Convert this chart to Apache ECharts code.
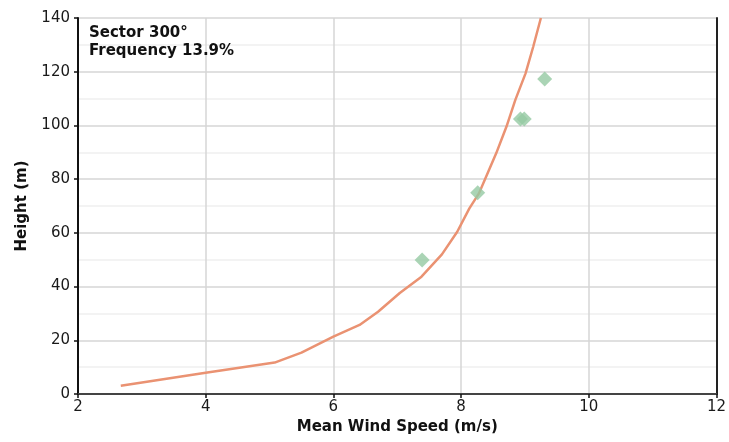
<!DOCTYPE html>
<html>
<head>
<meta charset="utf-8">
<script src="https://cdn.jsdelivr.net/npm/echarts@6/dist/echarts.min.js"></script>
<style>
  html, body { margin: 0; padding: 0; background: #fff; }
  #chart { width: 729px; height: 442px; }
</style>
</head>
<body>
<div id="chart"></div>
<script>
// wind profile curve: [mean wind speed m/s, height m]
const profileLine = [
  [2.67, 3.1], [4.0, 7.9], [5.08, 11.7], [5.5, 15.4], [6.0, 21.4], [6.41, 25.7],
  [6.7, 30.6], [7.04, 37.6], [7.38, 43.7], [7.7, 52.0], [7.94, 60.4], [8.13, 69.1],
  [8.28, 74.7], [8.37, 79.7], [8.55, 89.6], [8.71, 99.5], [8.85, 109.5],
  [9.01, 119.4], [9.13, 129.3], [9.25, 140]
]
// measured points
const measured = [
  [7.39, 49.9], [8.26, 74.9], [8.93, 102.4], [8.99, 102.4], [9.31, 117.3]
]
const xTicks = [2, 4, 6, 8, 10, 12]
const yTicks = [0, 20, 40, 60, 80, 100, 120, 140]
const noteLines = ['Sector 300°', 'Frequency 13.9%']

const font = 'DejaVu Sans'
const frameAxis = { show: true, lineStyle: { color: '#222', width: 2 } }
const chart = echarts.init(document.getElementById('chart'))
chart.setOption({
  animation: false,
  backgroundColor: '#fff',
  grid: { left: 78, right: 12, top: 18, bottom: 48 },
  graphic: [{
    type: 'text', left: 89, top: 24, z: 100,
    style: {
      text: noteLines.join('\n'),
      font: 'bold 15px "DejaVu Sans"',
      fill: '#111', lineHeight: 18
    }
  }],
  xAxis: [{
    type: 'value', min: xTicks[0], max: xTicks[xTicks.length - 1], interval: 2,
    name: 'Mean Wind Speed (m/s)', nameLocation: 'middle', nameGap: 26,
    nameTextStyle: { fontFamily: font, fontWeight: 'bold', fontSize: 15, color: '#111' },
    axisLine: { lineStyle: { color: '#111', width: 2 } },
    axisTick: { show: true, length: 4, lineStyle: { color: '#111', width: 1.5 } },
    axisLabel: { fontFamily: font, fontSize: 15, color: '#1a1a1a', margin: 6 },
    splitLine: { show: true, lineStyle: { color: '#d6d6d6', width: 1.5 } }
  }, {
    type: 'value', position: 'top', min: 2, max: 12,
    axisLine: { show: true, lineStyle: { color: '#555', width: 1.5 } },
    axisTick: { show: false }, axisLabel: { show: false }, splitLine: { show: false }
  }],
  yAxis: [{
    type: 'value', min: yTicks[0], max: yTicks[yTicks.length - 1], interval: 20,
    name: 'Height (m)', nameLocation: 'middle', nameGap: 48,
    nameTextStyle: { fontFamily: font, fontWeight: 'bold', fontSize: 15, color: '#111' },
    axisLine: { show: true, lineStyle: { color: '#111', width: 2 } },
    axisTick: { show: true, length: 4, lineStyle: { color: '#111', width: 1.5 } },
    axisLabel: { fontFamily: font, fontSize: 15, color: '#1a1a1a', margin: 8 },
    splitLine: { show: true, lineStyle: { color: '#d6d6d6', width: 1.5 } },
    minorTick: { show: false, splitNumber: 2 },
    minorSplitLine: { show: true, lineStyle: { color: '#efefef', width: 1.5 } }
  }, {
    type: 'value', position: 'right', min: 0, max: 140,
    axisLine: frameAxis,
    axisTick: { show: false }, axisLabel: { show: false }, splitLine: { show: false }
  }],
  series: [{
    type: 'line',
    data: profileLine,
    showSymbol: false,
    lineStyle: { color: '#ea9272', width: 2.5 },
    z: 3
  }, {
    type: 'scatter',
    data: measured,
    symbol: 'diamond',
    symbolSize: [15, 15],
    itemStyle: { color: '#95c9a3' },
    z: 4
  }]
})
</script>
</body>
</html>
